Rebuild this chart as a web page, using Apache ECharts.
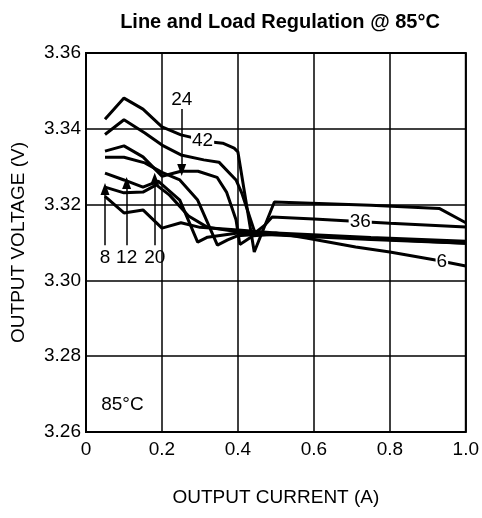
<!DOCTYPE html>
<html>
<head>
<meta charset="utf-8">
<script src="https://cdn.jsdelivr.net/npm/echarts@6/dist/echarts.min.js"></script>
<style>
  html, body { margin: 0; padding: 0; background: #fff; }
  #chart { width: 482px; height: 518px; }
</style>
</head>
<body>
<div id="chart"></div>
<script>
// tick labels
const xTicks = ["0", "0.2", "0.4", "0.6", "0.8", "1.0"]
const yTicks = ["3.26", "3.28", "3.30", "3.32", "3.34", "3.36"]

// output voltage vs output current, one list per input voltage
const v42 = [[0.05, 3.3425], [0.10, 3.3481], [0.15, 3.3452], [0.20, 3.3405], [0.25, 3.3384], [0.33, 3.3365], [0.36, 3.3362], [0.39, 3.3349], [0.40, 3.3339], [0.443, 3.3075], [0.496, 3.3207], [0.75, 3.3198], [0.93, 3.3190], [1.0, 3.3152]]
const v36 = [[0.05, 3.3385], [0.10, 3.3424], [0.155, 3.3389], [0.20, 3.3357], [0.25, 3.3331], [0.31, 3.3318], [0.35, 3.3312], [0.395, 3.3265], [0.41, 3.3231], [0.425, 3.3186], [0.445, 3.3125], [0.47, 3.3145], [0.49, 3.3167], [0.60, 3.3162], [0.80, 3.3151], [1.0, 3.3141]]
const v24 = [[0.05, 3.3341], [0.10, 3.3355], [0.15, 3.3326], [0.20, 3.3275], [0.25, 3.3288], [0.295, 3.3288], [0.345, 3.3272], [0.37, 3.3233], [0.395, 3.3160], [0.405, 3.3095], [0.44, 3.3118], [0.50, 3.3122], [0.75, 3.3110], [1.0, 3.3100]]
const v20 = [[0.05, 3.3325], [0.10, 3.3325], [0.155, 3.3310], [0.20, 3.3285], [0.247, 3.3265], [0.294, 3.3212], [0.346, 3.3093], [0.373, 3.3107], [0.40, 3.3118], [0.50, 3.3125], [0.75, 3.3113], [1.0, 3.3103]]
const v12 = [[0.05, 3.3283], [0.10, 3.3265], [0.15, 3.3246], [0.19, 3.3262], [0.247, 3.3212], [0.294, 3.3101], [0.32, 3.3114], [0.40, 3.3125], [0.50, 3.3120], [0.75, 3.3108], [1.0, 3.3098]]
const v8 = [[0.05, 3.3246], [0.10, 3.3231], [0.15, 3.3233], [0.185, 3.3252], [0.22, 3.3225], [0.27, 3.3170], [0.32, 3.3140], [0.40, 3.3128], [0.50, 3.3122], [0.75, 3.3110], [1.0, 3.3098]]
const v6 = [[0.05, 3.3222], [0.10, 3.3178], [0.15, 3.3186], [0.20, 3.3138], [0.25, 3.3152], [0.30, 3.3140], [0.40, 3.3133], [0.50, 3.3125], [0.58, 3.3112], [0.71, 3.3088], [0.80, 3.3075], [0.92, 3.3054], [1.0, 3.3038]]

const curves = [v42, v36, v24, v20, v12, v8, v6]

// curve labels sitting on the lines
const inlineLabels = [["42", 0.307, 3.3368], ["36", 0.722, 3.3156], ["6", 0.937, 3.3049]]
// arrow labels: text, x, text y, arrow start y, arrow tip y
const arrowLabels = [["8", 0.05, 3.3059, 3.3093, 3.3241], ["12", 0.107, 3.3059, 3.3093, 3.3257], ["20", 0.181, 3.3059, 3.3093, 3.3268], ["24", 0.252, 3.3476, 3.3452, 3.3291]]

const chart = echarts.init(document.getElementById("chart"))

const font = "Liberation Sans"

const lineSeries = curves.map(d => ({
  type: "line",
  data: d,
  symbol: "none",
  lineStyle: { color: "#000", width: 3 },
  z: 3
}))

const labelStyle = {
  show: true, position: "inside", formatter: p => p.name,
  fontFamily: font, fontSize: 19, color: "#000",
  textBorderWidth: 0
}

const option = {
  animation: false,
  title: {
    text: "Line and Load Regulation @ 85°C",
    left: 275,
    top: 7,
    textAlign: "center",
    textStyle: { fontFamily: font, fontSize: 20, fontWeight: "bold", color: "#000" }
  },
  grid: {
    left: 86, right: 15, top: 53, bottom: 86,
    show: true, borderColor: "#000", borderWidth: 2
  },
  xAxis: {
    type: "value", min: 0, max: 1, interval: 0.2,
    name: "OUTPUT CURRENT (A)", nameLocation: "middle", nameGap: 56,
    nameTextStyle: { fontFamily: font, fontSize: 19, color: "#000" },
    axisLine: { show: false },
    axisTick: { show: false },
    axisLabel: {
      margin: 8, fontFamily: font, fontSize: 19, color: "#000",
      formatter: v => xTicks[Math.round(v / 0.2)]
    },
    splitLine: { lineStyle: { color: "#000", width: 1.5 } }
  },
  yAxis: {
    type: "value", min: 3.26, max: 3.36, interval: 0.02,
    name: "OUTPUT VOLTAGE (V)", nameLocation: "middle", nameGap: 58,
    nameTextStyle: { fontFamily: font, fontSize: 19, color: "#000" },
    axisLine: { show: false },
    axisTick: { show: false },
    axisLabel: {
      margin: 5, fontFamily: font, fontSize: 19, color: "#000",
      formatter: v => yTicks[Math.round((v - 3.26) / 0.02)]
    },
    splitLine: { lineStyle: { color: "#000", width: 1.5 } }
  },
  series: [
    ...lineSeries,
    {
      type: "line",
      data: [],
      markLine: {
        silent: true,
        symbol: ["none", "triangle"],
        symbolSize: [9, 12],
        lineStyle: { color: "#000", width: 1.5, type: "solid" },
        label: { show: false },
        data: arrowLabels.map(a => [{ coord: [a[1], a[3]] }, { coord: [a[1], a[4]] }])
      },
      z: 4
    },
    {
      type: "scatter",
      symbolSize: 0,
      itemStyle: { opacity: 1 },
      data: arrowLabels.map(a => ({ value: [a[1], a[2]], name: a[0] }))
        .concat([{ value: [0.096, 3.2671], name: "85°C" }]),
      label: labelStyle,
      z: 5
    },
    {
      type: "scatter",
      symbolSize: 0,
      itemStyle: { opacity: 1 },
      data: inlineLabels.map(a => ({ value: [a[1], a[2]], name: a[0] })),
      label: Object.assign({}, labelStyle, { backgroundColor: "#fff", padding: [0, 1] }),
      z: 6
    }
  ]
}

chart.setOption(option)
</script>
</body>
</html>
